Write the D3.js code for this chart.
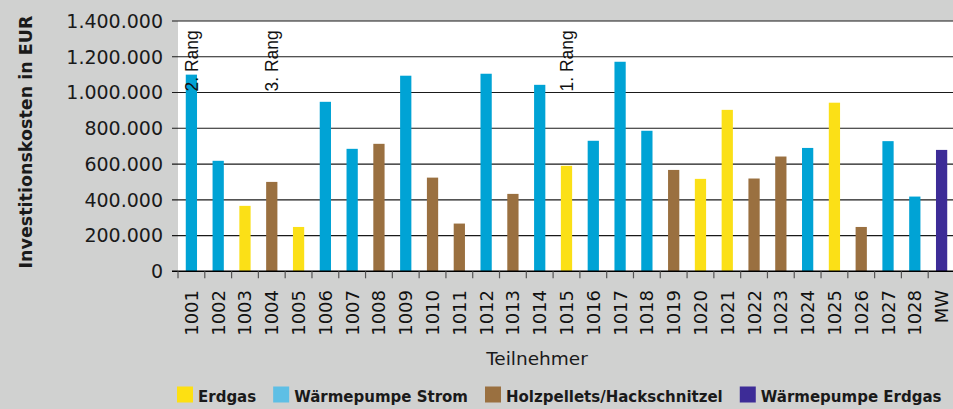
<!DOCTYPE html>
<html>
<head>
<meta charset="utf-8">
<script src="https://cdn.jsdelivr.net/npm/d3@7"></script>
<style>
  body { margin: 0; background: #d0d1d0; }
  svg { display: block; }
</style>
</head>
<body>
<div id="chart"></div>
<script>
// Teilnehmer (categories)
var teilnehmer = ["1001", "1002", "1003", "1004", "1005", "1006", "1007", "1008", "1009", "1010",
  "1011", "1012", "1013", "1014", "1015", "1016", "1017", "1018", "1019", "1020",
  "1021", "1022", "1023", "1024", "1025", "1026", "1027", "1028", "MW"];

// Investitionskosten in EUR
var kosten = [1100000, 618000, 366000, 500000, 248000, 948000, 685000, 713000, 1094000, 524000,
  267000, 1105000, 433000, 1043000, 590000, 730000, 1172000, 786000, 567000, 517000,
  903000, 519000, 642000, 690000, 943000, 248000, 728000, 418000, 679000];

// Heizsystem je Teilnehmer
var system = ["WS", "WS", "EG", "HP", "EG", "WS", "WS", "HP", "WS", "HP",
  "HP", "WS", "HP", "WS", "EG", "WS", "WS", "WS", "HP", "EG",
  "EG", "HP", "HP", "WS", "EG", "HP", "WS", "WS", "WE"];

// Rang labels
var rangTeilnehmer = ["1001", "1004", "1015"];
var rangText = ["2. Rang", "3. Rang", "1. Rang"];

// Legend
var legendKeys = ["EG", "WS", "HP", "WE"];
var legendNames = ["Erdgas", "Wärmepumpe Strom", "Holzpellets/Hackschnitzel", "Wärmepumpe Erdgas"];

var yTicks = [0, 200000, 400000, 600000, 800000, 1000000, 1200000, 1400000];

var barColor = { EG: "#fbe017", WS: "#00a3d5", HP: "#9a7040", WE: "#3d2c97" };
var legendColor = { EG: "#fde012", WS: "#5ebfe5", HP: "#9a7040", WE: "#3d2c97" };

var width = 953;
var height = 409;

var svg = d3.select("#chart")
  .append("svg")
  .attr("width", width)
  .attr("height", height);

var plotLeft = 178, plotRight = 955, plotTop = 21, plotBottom = 271.3;

var xScale = d3.scaleBand()
  .domain(teilnehmer)
  .range([plotLeft, plotRight])
  .paddingInner(0.58)
  .paddingOuter(0.29);

var yScale = d3.scaleLinear()
  .domain([0, 1400000])
  .range([plotBottom, plotTop]);

// white plot background
svg.append("rect")
  .attr("x", plotLeft)
  .attr("y", plotTop)
  .attr("width", width - plotLeft)
  .attr("height", plotBottom - plotTop)
  .attr("fill", "#ffffff");

// grid lines
svg.append("g")
  .selectAll("line")
  .data(yTicks.slice(1))
  .enter()
  .append("line")
  .attr("x1", 172)
  .attr("x2", width)
  .attr("y1", function(d) { return yScale(d); })
  .attr("y2", function(d) { return yScale(d); })
  .attr("stroke", "#1a1a1a")
  .attr("stroke-width", 1.2);

// y tick labels
var fmt = function(d) {
  return d3.format(",")(d).replace(/,/g, ".");
};
svg.append("g")
  .selectAll("text")
  .data(yTicks)
  .enter()
  .append("text")
  .attr("x", 163)
  .attr("y", function(d) { return yScale(d); })
  .attr("dy", "0.36em")
  .attr("text-anchor", "end")
  .attr("font-family", "DejaVu Sans")
  .attr("font-size", 19)
  .attr("fill", "#1a1a1a")
  .text(fmt);

// bars
svg.append("g")
  .selectAll("rect")
  .data(teilnehmer)
  .enter()
  .append("rect")
  .attr("x", function(d) { return xScale(d); })
  .attr("width", xScale.bandwidth())
  .attr("y", function(d, i) { return yScale(kosten[i]); })
  .attr("height", function(d, i) { return plotBottom - yScale(kosten[i]); })
  .attr("fill", function(d, i) { return barColor[system[i]]; });

// x axis line
svg.append("line")
  .attr("x1", 172)
  .attr("x2", width)
  .attr("y1", plotBottom)
  .attr("y2", plotBottom)
  .attr("stroke", "#000")
  .attr("stroke-width", 1.4);

// x tick marks on band boundaries
var step = xScale.step();
var gap = step - xScale.bandwidth();
svg.append("g")
  .selectAll("line")
  .data(teilnehmer)
  .enter()
  .append("line")
  .attr("x1", function(d) { return xScale(d) - gap / 2; })
  .attr("x2", function(d) { return xScale(d) - gap / 2; })
  .attr("y1", plotBottom)
  .attr("y2", plotBottom + 7)
  .attr("stroke", "#555")
  .attr("stroke-width", 1.2);

// x labels
svg.append("g")
  .selectAll("text")
  .data(teilnehmer)
  .enter()
  .append("text")
  .attr("transform", function(d) {
    return "translate(" + (xScale(d) + xScale.bandwidth() / 2 + 6.5) + "," + 290 + ")rotate(-90)";
  })
  .attr("text-anchor", "end")
  .attr("font-family", "DejaVu Sans")
  .attr("font-size", 18)
  .attr("fill", "#111")
  .text(function(d) { return d; });

// Rang labels
svg.append("g")
  .selectAll("text")
  .data(rangTeilnehmer)
  .enter()
  .append("text")
  .attr("transform", function(d) {
    return "translate(" + (xScale(d) + xScale.bandwidth() / 2 + 6.5) + "," + 91.5 + ")rotate(-90)";
  })
  .attr("text-anchor", "start")
  .attr("font-family", "Liberation Sans")
  .attr("font-size", 17.5)
  .attr("fill", "#111")
  .text(function(d, i) { return rangText[i]; });

// axis titles
svg.append("text")
  .attr("transform", "translate(32," + 142 + ")rotate(-90)")
  .attr("text-anchor", "middle")
  .attr("font-family", "DejaVu Sans")
  .attr("font-weight", "bold")
  .attr("font-size", 17.5)
  .attr("fill", "#1a1a1a")
  .text("Investitionskosten in EUR");

svg.append("text")
  .attr("x", 537)
  .attr("y", 365)
  .attr("text-anchor", "middle")
  .attr("font-family", "DejaVu Sans")
  .attr("font-size", 18.5)
  .attr("fill", "#1a1a1a")
  .text("Teilnehmer");

// legend
var legend = svg.append("g");
var lx = 177;
legendKeys.forEach(function(k, i) {
  legend.append("rect")
    .attr("x", lx)
    .attr("y", 386.5)
    .attr("width", 16)
    .attr("height", 16)
    .attr("fill", legendColor[k]);
  var t = legend.append("text")
    .attr("x", lx + 21)
    .attr("y", 401.5)
    .attr("font-family", "DejaVu Sans")
    .attr("font-weight", "bold")
    .attr("font-size", 15)
    .attr("fill", "#1a1a1a")
    .text(legendNames[i]);
  lx = lx + 21 + t.node().getComputedTextLength() + 17;
});
</script>
</body>
</html>
